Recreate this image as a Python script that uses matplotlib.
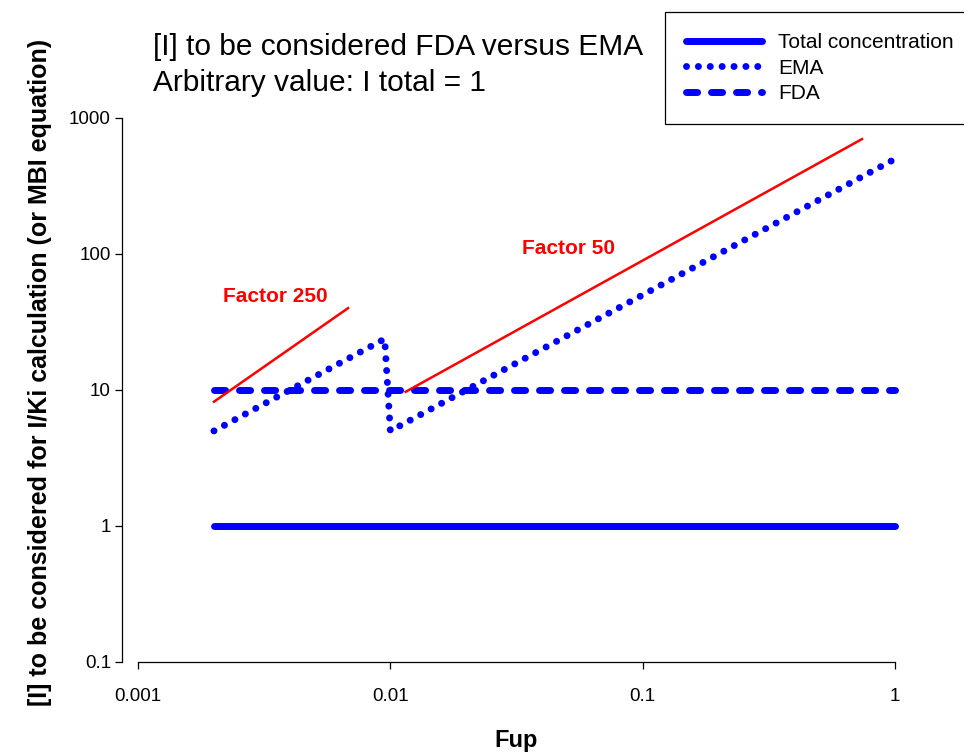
import matplotlib
matplotlib.use("Agg")
import matplotlib.pyplot as plt
from matplotlib.lines import Line2D

plt.rcParams['font.family'] = ['Liberation Sans', 'DejaVu Sans']

# data
fup_range = [0.002, 1.0]
total_conc = [1, 1]
fda_conc = [10, 10]

ema_fup = [0.002, 0.0095, 0.01, 1.0]
ema_conc = [5, 23.75, 5, 500]

factor250_fup = [0.002, 0.0068]
factor250_conc = [8.2, 40]
factor50_fup = [0.0115, 0.74]
factor50_conc = [9.7, 700]

xticks = [0.001, 0.01, 0.1, 1]
xtick_labels = ['0.001', '0.01', '0.1', '1']
yticks = [0.1, 1, 10, 100, 1000]
ytick_labels = ['0.1', '1', '10', '100', '1000']

BLUE = '#0000FF'
RED = '#FF0000'
W, H = 964, 754
EMA_STYLE = dict(color=BLUE, lw=5, linestyle=(0, (0.01, 1.7)), dash_capstyle='round')
FDA_STYLE = dict(color=BLUE, lw=5, linestyle=(0, (1.6, 2.0)), dash_capstyle='round')
TOTAL_STYLE = dict(color=BLUE, lw=5, solid_capstyle='round')

fig = plt.figure(figsize=(W / 100, H / 100), dpi=100)
ax = fig.add_axes([122 / W, 1 - 662 / H, (911 - 122) / W, (662 - 118) / H])
ax.set_xscale('log')
ax.set_yscale('log')

ax.plot(fup_range, total_conc, **TOTAL_STYLE)
ax.plot(ema_fup, ema_conc, **EMA_STYLE)
ax.plot(fup_range, fda_conc, **FDA_STYLE)
ax.plot(factor250_fup, factor250_conc, color=RED, lw=1.8)
ax.plot(factor50_fup, factor50_conc, color=RED, lw=1.8)

ax.text(0.0035, 49, 'Factor 250', color=RED, fontsize=15, fontweight='bold',
        ha='center', va='center')
ax.text(0.051, 110, 'Factor 50', color=RED, fontsize=15, fontweight='bold',
        ha='center', va='center')

ax.set_xlim(10 ** -3.0634, 10 ** 0.0634)
ax.set_ylim(0.1, 1000)
ax.spines['top'].set_visible(False)
ax.spines['right'].set_visible(False)
ax.spines['left'].set_bounds(0.1, 1000)
ax.spines['bottom'].set_bounds(0.001, 1)
for s in ('left', 'bottom'):
    ax.spines[s].set_linewidth(0.9)

ax.set_xticks(xticks)
ax.set_xticklabels(xtick_labels)
ax.set_yticks(yticks)
ax.set_yticklabels(ytick_labels)
ax.minorticks_off()
ax.tick_params(direction='out', length=5, width=0.9, labelsize=13.5)
ax.tick_params(axis='x', pad=14)
ax.tick_params(axis='y', pad=3)

ax.set_xlabel('Fup', fontsize=17, fontweight='bold')
ax.set_ylabel('[I] to be considered for I/Ki calculation (or MBI equation)',
              fontsize=18, fontweight='bold')
ax.xaxis.set_label_coords((516 - 122) / 789, (662 - 740) / 544)
ax.yaxis.set_label_coords((40 - 122) / 789, (662 - 372) / 544)
ax.xaxis.label.set_va('center')
ax.yaxis.label.set_va('center')

fig.text(153 / W, 1 - 55 / H, '[I] to be considered FDA versus EMA',
         fontsize=21.5, va='baseline')
fig.text(153 / W, 1 - 91 / H, 'Arbitrary value: I total = 1',
         fontsize=21.5, va='baseline')

handles = [Line2D([], [], **TOTAL_STYLE), Line2D([], [], **EMA_STYLE),
           Line2D([], [], **FDA_STYLE)]
leg = fig.legend(handles, ['Total concentration', 'EMA', 'FDA'],
                 loc='upper left', bbox_to_anchor=(665 / W, 1 - 12 / H),
                 borderaxespad=0, fontsize=15, handlelength=3.65,
                 handletextpad=0.77, labelspacing=0.32, borderpad=1.0,
                 fancybox=False, framealpha=1, edgecolor='black')
leg.get_frame().set_linewidth(0.9)

fig.savefig('out.png', dpi=100)
